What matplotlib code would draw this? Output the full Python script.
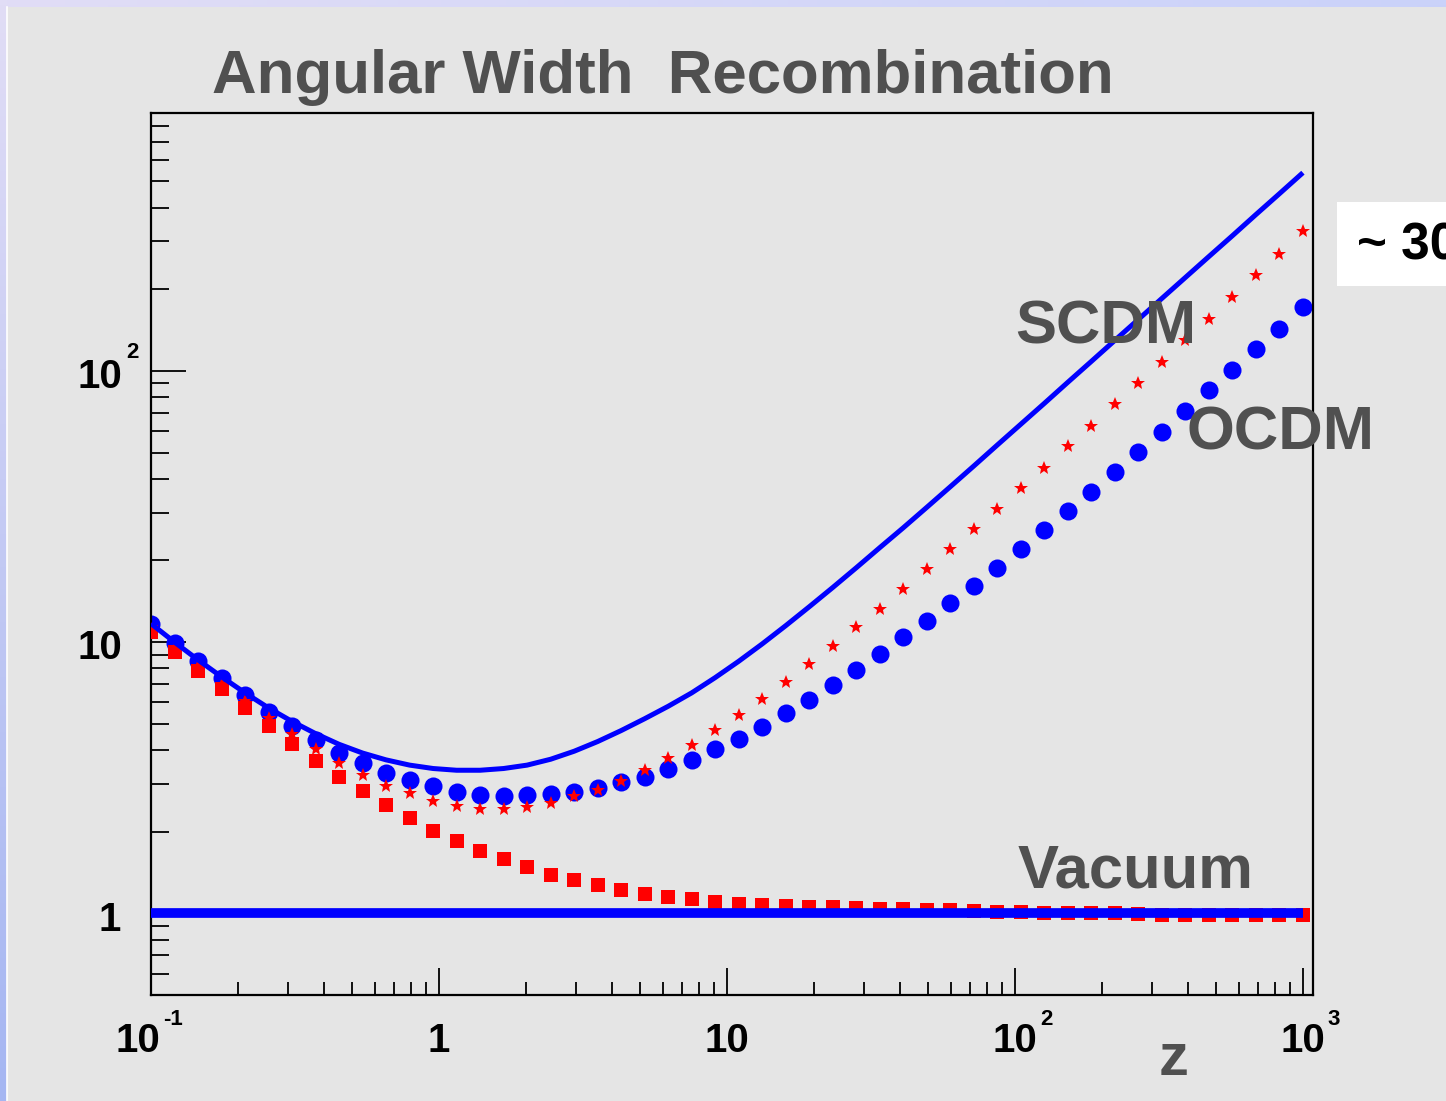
import numpy as np
import matplotlib.pyplot as plt
from matplotlib.patches import Rectangle
from matplotlib.ticker import LogLocator, NullFormatter

plt.rcParams['font.family'] = ['Liberation Sans', 'DejaVu Sans']

# redshift grid, 50 log-spaced points from 0.1 to 1000
z = np.logspace(-1, 3, 50)

# angular width curves
scdm = [11.7, 10.0, 8.6, 7.45, 6.5, 5.72, 5.1, 4.6, 4.2, 3.9,
        3.68, 3.52, 3.42, 3.37, 3.37, 3.42, 3.52, 3.7, 3.96, 4.3,
        4.72, 5.22, 5.8, 6.5, 7.4, 8.5, 9.85, 11.5, 13.5, 15.9,
        18.8, 22.3, 26.4, 31.4, 37.4, 44.6, 53.3, 63.6, 75.9, 90.8,
        108.4, 129.6, 154.8, 185.0, 221.0, 264.0, 315.0, 377.0, 450.0, 538.0]
ocdm = [11.65, 9.94, 8.53, 7.35, 6.37, 5.53, 4.90, 4.35, 3.90, 3.57,
        3.29, 3.10, 2.94, 2.80, 2.74, 2.71, 2.72, 2.75, 2.80, 2.89,
        3.04, 3.18, 3.42, 3.69, 4.02, 4.41, 4.87, 5.46, 6.11, 6.94,
        7.88, 9.01, 10.41, 11.98, 13.89, 16.09, 18.80, 22.03, 25.90, 30.44,
        35.86, 42.50, 50.38, 59.39, 71.18, 85.11, 100.8, 120.2, 143.3, 172.7]
red_star = [11.2, 9.5, 8.2, 7.0, 6.05, 5.25, 4.60, 4.03, 3.57, 3.23,
            2.95, 2.77, 2.59, 2.49, 2.43, 2.43, 2.47, 2.55, 2.70, 2.86,
            3.07, 3.37, 3.75, 4.17, 4.73, 5.38, 6.16, 7.10, 8.29, 9.66,
            11.33, 13.24, 15.65, 18.55, 21.98, 26.06, 30.96, 36.91, 43.75, 52.88,
            62.85, 75.37, 90.54, 108.2, 130.1, 155.6, 188.0, 226.1, 270.2, 326.6]
red_square = [10.86, 9.21, 7.84, 6.69, 5.74, 4.90, 4.20, 3.64, 3.18, 2.82,
              2.50, 2.24, 2.02, 1.85, 1.70, 1.58, 1.48, 1.39, 1.33, 1.27,
              1.22, 1.18, 1.15, 1.126, 1.10, 1.086, 1.073, 1.064, 1.058, 1.052,
              1.046, 1.041, 1.035, 1.03, 1.025, 1.02, 1.015, 1.01, 1.005, 1.0,
              1.0, 1.0, 0.995, 0.99, 0.99, 0.985, 0.985, 0.985, 0.985, 0.99]
vacuum = np.ones_like(z)

W, H = 1446, 1101
fig = plt.figure(figsize=(W / 100, H / 100), dpi=100)

# bluish gradient border and gray canvas, in a full-figure background axes
bg = fig.add_axes([0, 0, 1, 1], zorder=-10)
bg.axis('off')
u, v = np.meshgrid(np.linspace(0, 1, 200), np.linspace(0, 1, 200))
tl = np.array([225, 221, 246]) / 255
tr = np.array([202, 210, 250]) / 255
bl = np.array([165, 182, 242]) / 255
br = np.array([150, 170, 240]) / 255
grad = (tl * ((1 - u) * (1 - v))[..., None] + tr * (u * (1 - v))[..., None]
        + bl * ((1 - u) * v)[..., None] + br * (u * v)[..., None])
bg.imshow(grad, extent=[0, 1, 0, 1], aspect='auto', origin='upper')
bg.add_patch(Rectangle((7 / W, 0), 1, 1 - 7 / H, facecolor='#e5e5e5',
                       edgecolor='none', zorder=2))
bg.plot([7 / W, 7 / W], [0, 1 - 7 / H], color='white', lw=1.2, zorder=3)
# white note box at right edge
bg.add_patch(Rectangle((1337 / W, 1 - 286 / H), 200 / W, 84 / H,
                       facecolor='white', edgecolor='none', zorder=3))
bg.set_xlim(0, 1)
bg.set_ylim(0, 1)

ax = fig.add_axes([151 / W, (H - 995) / H, (1313 - 151) / W, (995 - 113) / H])
ax.set_facecolor('#e5e5e5')
ax.set_xscale('log')
ax.set_yscale('log')
ax.set_xlim(0.1, 1084)
ax.set_ylim(0.5, 893)

ax.plot(z, ocdm, 'o', color='#0000ff', ms=13, mew=0, zorder=2)
ax.plot(z, red_square, 's', color='#ff0000', ms=9.4, mew=0, zorder=3)
ax.plot(z, red_star, '*', color='#ff0000', ms=10.5, mew=0, zorder=4)
ax.plot(z, scdm, '-', color='#0000ff', lw=3.6, zorder=5, solid_capstyle='butt')
ax.plot(z, vacuum, '-', color='#0000ff', lw=7, zorder=5, solid_capstyle='butt')

for s in ax.spines.values():
    s.set_linewidth(1.6)
    s.set_color('black')

ax.xaxis.set_major_locator(LogLocator(base=10, numticks=20))
ax.xaxis.set_minor_locator(LogLocator(base=10, subs=np.arange(2, 10), numticks=50))
ax.yaxis.set_major_locator(LogLocator(base=10, numticks=20))
ax.yaxis.set_minor_locator(LogLocator(base=10, subs=np.arange(2, 10), numticks=50))
ax.xaxis.set_minor_formatter(NullFormatter())
ax.yaxis.set_minor_formatter(NullFormatter())
ax.tick_params(which='both', direction='in', top=False, right=False,
               labelbottom=False, labelleft=False, color='black', width=1.3)
ax.tick_params(axis='x', which='major', length=19.5)
ax.tick_params(axis='x', which='minor', length=9.5)
ax.tick_params(axis='y', which='major', length=25)
ax.tick_params(axis='y', which='minor', length=13)

lab = dict(fontsize=29, fontweight='bold', color='black', va='baseline',
           textcoords='offset pixels', annotation_clip=False)
sup = dict(fontsize=16, fontweight='bold', color='black', va='baseline',
           textcoords='offset pixels', annotation_clip=False)

# y axis labels
yx = ('axes fraction', 'data')
ax.annotate('1', xy=(0, 1), xycoords=yx, xytext=(-30, -18), ha='right', **lab)
ax.annotate('10', xy=(0, 10), xycoords=yx, xytext=(-29, -17), ha='right', **lab)
ax.annotate('10', xy=(0, 100), xycoords=yx, xytext=(-29, -17), ha='right', **lab)
ax.annotate('2', xy=(0, 100), xycoords=yx, xytext=(-25, 13), ha='left', **sup)

# x axis labels
xy_ = ('data', 'axes fraction')
ax.annotate('10', xy=(0.1, 0), xycoords=xy_, xytext=(9, -57), ha='right', **lab)
ax.annotate('-1', xy=(0.1, 0), xycoords=xy_, xytext=(12, -30), ha='left', **sup)
ax.annotate('1', xy=(1, 0), xycoords=xy_, xytext=(0, -57), ha='center', **lab)
ax.annotate('10', xy=(10, 0), xycoords=xy_, xytext=(0, -57), ha='center', **lab)
ax.annotate('10', xy=(100, 0), xycoords=xy_, xytext=(0, -57), ha='center', **lab)
ax.annotate('2', xy=(100, 0), xycoords=xy_, xytext=(25, -30), ha='left', **sup)
ax.annotate('10', xy=(1000, 0), xycoords=xy_, xytext=(0, -57), ha='center', **lab)
ax.annotate('3', xy=(1000, 0), xycoords=xy_, xytext=(25, -30), ha='left', **sup)

gray = '#505050'
big = dict(fontsize=44.3, fontweight='bold', color=gray, va='baseline', ha='left')
ax.text(100, 126, 'SCDM', zorder=6, **big)
ax.text(395, 51.3, 'OCDM', zorder=6, clip_on=False, **big)
ax.text(102, 1.25, 'Vacuum', zorder=6, **big)

fig.text(212 / W, 1 - 93 / H, 'Angular Width  Recombination', fontsize=44.5,
         fontweight='bold', color=gray, ha='left', va='baseline')
fig.text(1159 / W, 1 - 1075 / H, 'z', fontsize=43, fontweight='bold', color=gray,
         ha='left', va='baseline')
fig.text(1357 / W, 1 - 260 / H, '~ 30', fontsize=37, fontweight='bold',
         color='black', ha='left', va='baseline')

fig.savefig('out.png', dpi=100)
